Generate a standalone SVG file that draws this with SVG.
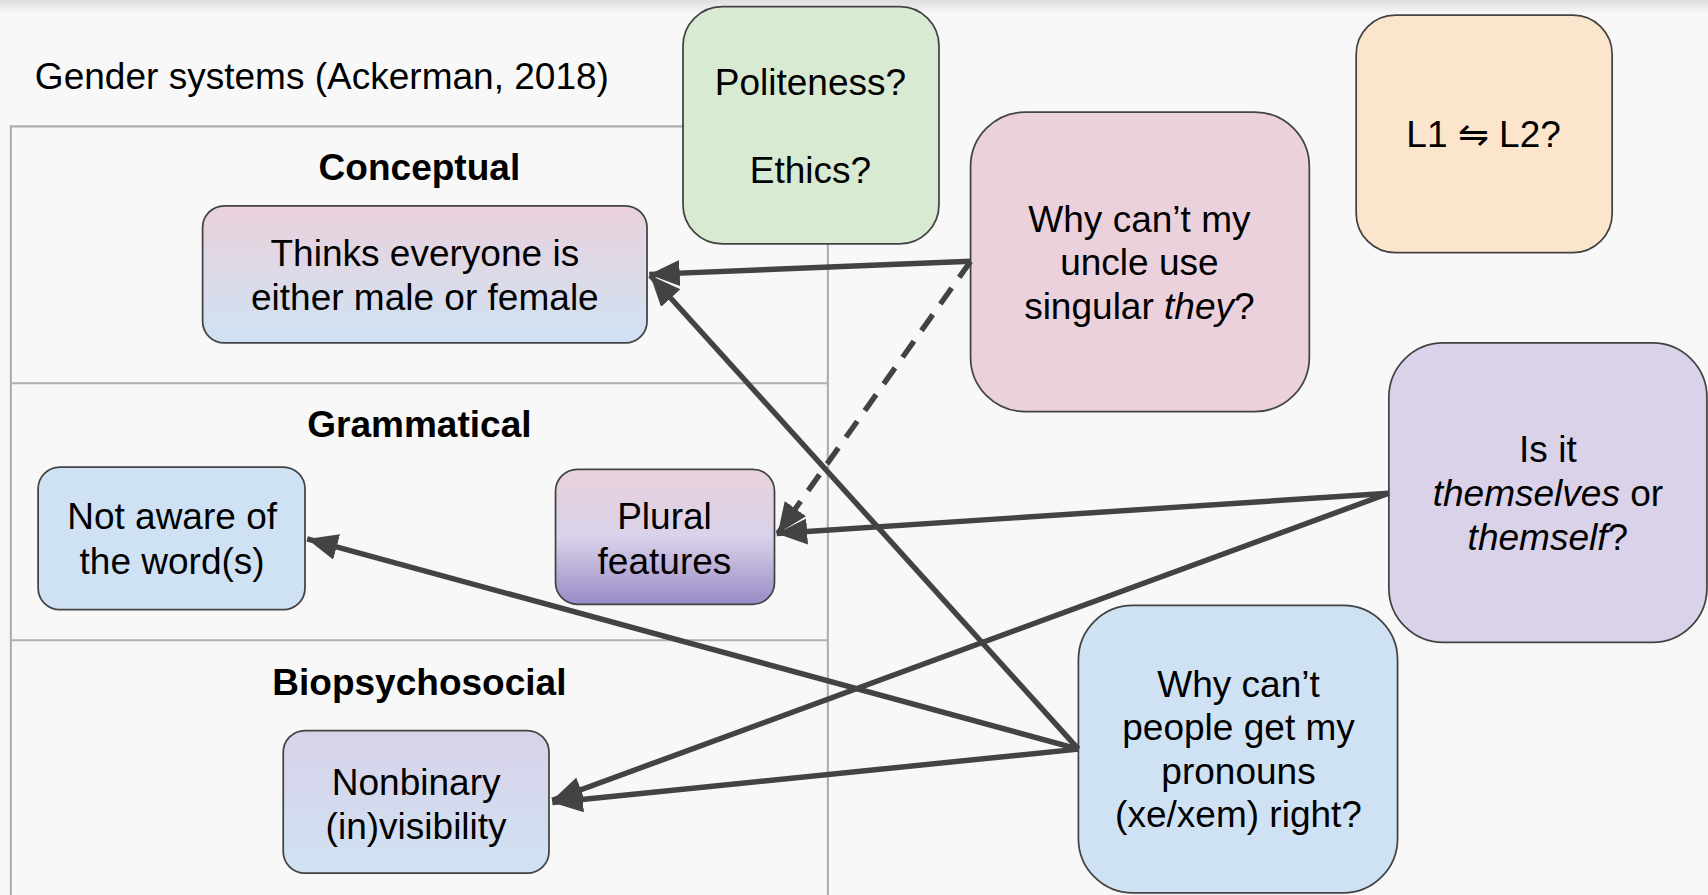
<svg xmlns="http://www.w3.org/2000/svg" width="1708" height="895" viewBox="0 0 1708 895">
<defs>
<linearGradient id="shadow" x1="0" y1="0" x2="0" y2="1">
<stop offset="0" stop-color="#dedede"/>
<stop offset="1" stop-color="#f8f8f8"/>
</linearGradient>
<linearGradient id="gThinks" x1="0" y1="0" x2="0" y2="1">
<stop offset="0" stop-color="#ead1dc"/>
<stop offset="1" stop-color="#cfe2f3"/>
</linearGradient>
<linearGradient id="gPlural" x1="0" y1="0" x2="0" y2="1">
<stop offset="0" stop-color="#ead1dc"/>
<stop offset="0.5" stop-color="#d9d2e9"/>
<stop offset="1" stop-color="#9a8bc6"/>
</linearGradient>
<linearGradient id="gNonbin" x1="0" y1="0" x2="0" y2="1">
<stop offset="0" stop-color="#d9d2e9"/>
<stop offset="1" stop-color="#cfe2f3"/>
</linearGradient>
<marker id="ah" markerUnits="userSpaceOnUse" markerWidth="32" markerHeight="26" refX="28" refY="12" orient="auto">
<path d="M0,0 L28,12 L0,24 Z" fill="#434343"/>
</marker>
</defs>
<style>
.box{stroke:#434343;stroke-width:1.6}
.t{font-family:"Liberation Sans",Arial,sans-serif;font-size:34px;fill:#000;text-anchor:middle}
.h{font-family:"Liberation Sans",Arial,sans-serif;font-size:34px;font-weight:bold;fill:#000;text-anchor:middle}
.grid{stroke:#b0b0b0;stroke-width:2;fill:none}
.c{stroke:#434343;stroke-width:5;fill:none;marker-end:url(#ah)}
</style>
<rect width="1708" height="895" fill="#f8f8f8"/>
<rect width="1708" height="14" fill="url(#shadow)"/>
<g transform="scale(1.0893 1.0888)">
<g id="table">
<path class="grid" d="M10,822 V116 H640 M10,352 H760 M10,588 H760 M760,200 V822"/>
<text x="32" y="82" style="font-family:'Liberation Sans',Arial,sans-serif;font-size:34px;fill:#000">Gender systems (Ackerman, 2018)</text>
<text class="h" x="385" y="165">Conceptual</text>
<text class="h" x="385" y="401">Grammatical</text>
<text class="h" x="385" y="638">Biopsychosocial</text>
</g>
<g id="politeness">
<rect class="box" x="627" y="6" width="235" height="218" rx="36" fill="#d9ead3"/>
<text class="t" x="744" y="87">Politeness?</text>
<text class="t" x="744" y="168">Ethics?</text>
</g>
<g id="l1l2">
<rect class="box" x="1245" y="14" width="235" height="218" rx="36" fill="#fce5cd"/>
<text class="t" x="1362" y="135">L1 ⇋ L2?</text>
</g>
<g id="thinks">
<rect class="box" x="186" y="189" width="408" height="126" rx="20" fill="url(#gThinks)"/>
<text class="t" x="390" y="244">Thinks everyone is</text>
<text class="t" x="390" y="285">either male or female</text>
</g>
<g id="notaware">
<rect class="box" x="35" y="429" width="245" height="131" rx="20" fill="#cfe2f3"/>
<text class="t" x="158" y="486">Not aware of</text>
<text class="t" x="158" y="527">the word(s)</text>
</g>
<g id="plural">
<rect class="box" x="510" y="431" width="201" height="124" rx="20" fill="url(#gPlural)"/>
<text class="t" x="610" y="486">Plural</text>
<text class="t" x="610" y="527">features</text>
</g>
<g id="nonbinary">
<rect class="box" x="260" y="671" width="244" height="131" rx="20" fill="url(#gNonbin)"/>
<text class="t" x="382" y="730">Nonbinary</text>
<text class="t" x="382" y="771">(in)visibility</text>
</g>
<g id="uncle">
<rect class="box" x="891" y="103" width="311" height="275" rx="50" fill="#ead1dc"/>
<text class="t" x="1046" y="213">Why can’t my</text>
<text class="t" x="1046" y="253">uncle use</text>
<text class="t" x="1046" y="293">singular <tspan font-style="italic">they</tspan>?</text>
</g>
<g id="themselves">
<rect class="box" x="1275" y="315" width="292" height="275" rx="50" fill="#d9d2e9"/>
<text class="t" x="1421" y="424">Is it</text>
<text class="t" x="1421" y="465"><tspan font-style="italic">themselves</tspan> or</text>
<text class="t" x="1421" y="505"><tspan font-style="italic">themself</tspan>?</text>
</g>
<g id="pronouns">
<rect class="box" x="990" y="556" width="293" height="264" rx="50" fill="#cfe2f3"/>
<text class="t" x="1137" y="640">Why can’t</text>
<text class="t" x="1137" y="680">people get my</text>
<text class="t" x="1137" y="720">pronouns</text>
<text class="t" x="1137" y="760">(xe/xem) right?</text>
</g>
<g id="connectors">
<line class="c" x1="891" y1="240" x2="596" y2="252"/>
<line class="c" x1="990" y1="688" x2="597" y2="253"/>
<line class="c" x1="891" y1="240" x2="714" y2="490" stroke-dasharray="18,12"/>
<line class="c" x1="1275" y1="453" x2="713" y2="490"/>
<line class="c" x1="1275" y1="453" x2="507" y2="735"/>
<line class="c" x1="990" y1="688" x2="282" y2="495"/>
<line class="c" x1="990" y1="688" x2="507" y2="737"/>
</g>
</g>
</svg>
